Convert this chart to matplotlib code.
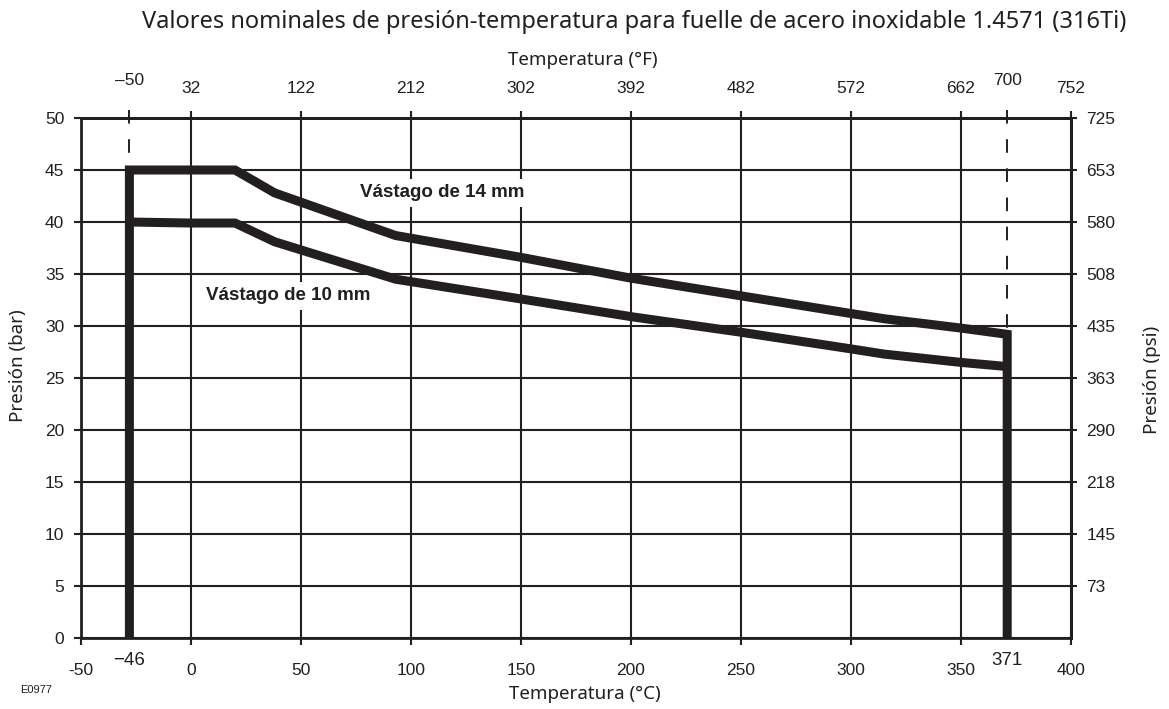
import matplotlib
matplotlib.use('Agg')
import matplotlib.pyplot as plt

# Temperatura (°C) y presión (bar)
t_14 = [-28, 20, 38, 93, 150, 200, 250, 300, 315, 350, 371]
p_14 = [45, 45, 42.8, 38.7, 36.6, 34.6, 32.9, 31.2, 30.7, 29.8, 29.2]

t_10 = [-28, 0, 20, 38, 93, 150, 200, 250, 300, 315, 350, 371]
p_10 = [40, 39.9, 39.9, 38.1, 34.5, 32.6, 30.9, 29.4, 27.8, 27.3, 26.5, 26.1]

t_lims = [-28, 371]
t_lim_labels = ['\u221246', '371']
f_lim_labels = ['\u201350', '700']

c_ticks = [-50, 0, 50, 100, 150, 200, 250, 300, 350, 400]
f_ticks = [32, 122, 212, 302, 392, 482, 572, 662, 752]
bar_ticks = [0, 5, 10, 15, 20, 25, 30, 35, 40, 45, 50]
psi_ticks = [73, 145, 218, 290, 363, 435, 508, 580, 653, 725]

ink = '#231f20'
tick_font = 'Liberation Sans'
label_font = ['Noto Sans', 'DejaVu Sans']

plt.rcParams['axes.unicode_minus'] = False

fig = plt.figure(figsize=(11.69, 7.09), dpi=100)
ax = fig.add_axes([81/1169, 1-638/709, 990/1169, 520/709])
ax.set_xlim(-50, 400)
ax.set_ylim(0, 50)

ax.set_xticks(c_ticks)
ax.set_xticklabels([str(v) for v in c_ticks])
ax.set_yticks(bar_ticks)
ax.grid(True, color=ink, lw=1.5)
ax.set_axisbelow(True)
for s in ax.spines.values():
    s.set_color(ink)
    s.set_linewidth(2)
ax.tick_params(axis='x', direction='out', length=5, width=1.5, color=ink, pad=13,
               labelsize=12.5, labelcolor=ink)
ax.tick_params(axis='y', direction='out', length=5, width=1.5, color=ink, pad=7,
               labelsize=12.5, labelcolor=ink)
for lab in ax.get_xticklabels() + ax.get_yticklabels():
    lab.set_fontfamily(tick_font)

# eje superior en °F
top = ax.secondary_xaxis('top', functions=(lambda c: c*1.8 + 32, lambda f: (f - 32)/1.8))
top.set_xticks(f_ticks)
top.set_xticklabels([str(v) for v in f_ticks])
top.tick_params(direction='out', length=5, width=1.5, color=ink, pad=11, labelsize=12.5,
                labelcolor=ink)
top.spines['top'].set_linewidth(2)
for lab in top.get_xticklabels():
    lab.set_fontfamily(tick_font)

# eje derecho en psi
right = ax.secondary_yaxis('right', functions=(lambda b: b*14.5038, lambda p: p/14.5038))
right.set_yticks(psi_ticks)
right.set_yticklabels([str(v) for v in psi_ticks])
right.tick_params(direction='out', length=4, width=1.5, color=ink, pad=7, labelsize=12.5,
                  labelcolor=ink)
right.spines['right'].set_linewidth(2)
for lab in right.get_yticklabels():
    lab.set_fontfamily(tick_font)

# curvas
ax.plot([t_14[0]] + t_14 + [t_14[-1]], [0] + p_14 + [0], color=ink, lw=6.5,
        solid_joinstyle='miter', solid_capstyle='butt', zorder=5)
ax.plot(t_10, p_10, color=ink, lw=6.5, solid_joinstyle='miter',
        solid_capstyle='butt', zorder=5)

# límites de temperatura
for t, top_p in zip(t_lims, [p_14[0], p_14[-1]]):
    ax.plot([t, t], [50.8, top_p], color=ink, lw=1.4, dashes=(7, 8), clip_on=False,
            zorder=4)
for t, lab in zip(t_lims, t_lim_labels):
    ax.text(t, -1.3, lab, ha='center', va='top', fontsize=13.5, color=ink,
            family=tick_font)
for t, lab in zip(t_lims, f_lim_labels):
    ax.text(t, 52.9, lab, ha='center', va='bottom', fontsize=12.5, color=ink,
            family=tick_font)

ax.text(114, 42.8, 'Vástago de 14 mm', ha='center', va='center', fontsize=13.5,
        fontweight='bold', color=ink, family=tick_font, zorder=3,
        bbox=dict(facecolor='white', edgecolor='none', pad=4))
ax.text(44, 32.9, 'Vástago de 10 mm', ha='center', va='center', fontsize=13.5,
        fontweight='bold', color=ink, family=tick_font, zorder=3,
        bbox=dict(facecolor='white', edgecolor='none', pad=4))

fig.text(634/1169, 1-22/709, 'Valores nominales de presión-temperatura para fuelle de acero inoxidable 1.4571 (316Ti)',
         ha='center', va='center', fontsize=17, color=ink, family=label_font)
fig.text(583/1169, 1-60/709, 'Temperatura (°F)', ha='center', va='center', fontsize=13.5,
         color=ink, family=label_font)
fig.text(585/1169, 1-694/709, 'Temperatura (°C)', ha='center', va='center', fontsize=13.5,
         color=ink, family=label_font)
fig.text(18/1169, 1-366/709, 'Presión (bar)', ha='center', va='center', rotation=90,
         fontsize=13.5, color=ink, family=label_font)
fig.text(1152/1169, 1-380/709, 'Presión (psi)', ha='center', va='center', rotation=90,
         fontsize=13.5, color=ink, family=label_font)
fig.text(20/1169, 1-690/709, 'E0977', ha='left', va='center', fontsize=8, color=ink,
         family=tick_font)

fig.savefig('out.png', dpi=100)
